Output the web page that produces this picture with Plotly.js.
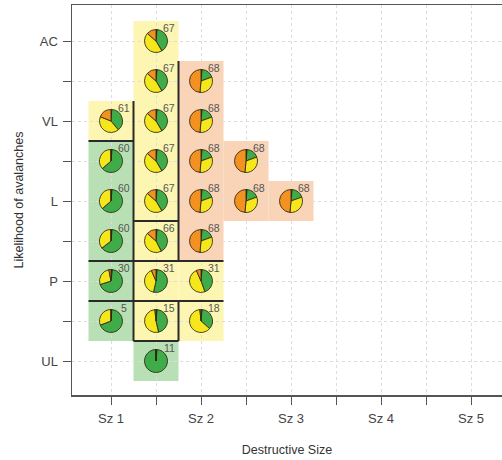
<!DOCTYPE html>
<html>
<head>
<meta charset="utf-8">
<script src="https://cdn.plot.ly/plotly-3.0.1.min.js"></script>
<style>
html,body{margin:0;padding:0;background:#fff;overflow:hidden;}
#chart{width:502px;height:460px;}
</style>
</head>
<body>
<div id="chart"></div>
<script>
// ---- data ----
const sizeLabels = ['Sz 1','Sz 2','Sz 3','Sz 4','Sz 5'];
const likelihoodLabels = ['UL','P','L','VL','AC'];

// pie positions (size, likelihood) on half-step grid
const pieX = [1,1,1,1,1,1, 1.5,1.5,1.5,1.5,1.5,1.5,1.5,1.5,1.5, 2,2,2,2,2,2,2, 2.5,2.5, 3];
const pieY = [4,3.5,3,2.5,2,1.5, 5,4.5,4,3.5,3,2.5,2,1.5,1, 4.5,4,3.5,3,2.5,2,1.5, 3.5,3, 3];
const pieN = [61,60,60,60,30,5, 67,67,67,67,67,66,31,15,11, 68,68,68,68,68,31,18, 68,68, 68];
const pieZone = ['Y','G','G','G','G','G', 'Y','Y','Y','Y','Y','Y','Y','Y','G', 'O','O','O','O','O','Y','Y', 'O','O', 'O'];
// shares of each pie (clockwise from 12 o'clock)
const shareBlack  = [0.01,0.015,0.015,0.015,0.02,0.012, 0.015,0.015,0.015,0.015,0.015,0.015,0.015,0.015,0.015, 0.015,0.015,0.015,0.015,0.015,0.015,0.015, 0.015,0.015, 0.015];
const shareGreen  = [0.38,0.62,0.62,0.63,0.68,0.68, 0.40,0.40,0.40,0.40,0.40,0.41,0.52,0.45,0.985, 0.18,0.18,0.18,0.18,0.18,0.43,0.35, 0.18,0.18, 0.18];
const shareYellow = [0.42,0.365,0.365,0.355,0.27,0.308, 0.45,0.45,0.45,0.45,0.45,0.44,0.40,0.52,0, 0.32,0.32,0.32,0.32,0.32,0.49,0.62, 0.32,0.32, 0.32];
const shareOrange = [0.19,0,0,0,0.03,0, 0.135,0.135,0.135,0.135,0.135,0.135,0.065,0.015,0, 0.485,0.485,0.485,0.485,0.485,0.065,0.015, 0.485,0.485, 0.485];

// boundary segments between zones (data units)
const segX0 = [1.25,1.75,1.75,0.75,1.25,0.75,0.75,1.25];
const segY0 = [4.25,4.75,1.75,3.75,2.75,2.25,1.75,1.25];
const segX1 = [1.25,1.75,1.75,1.25,1.75,2.25,2.25,1.75];
const segY1 = [1.25,2.25,1.25,3.75,2.75,2.25,1.75,1.25];

// ---- styles ----
const W = 502, H = 460;
const M = {l:72, r:0, t:5, b:65};
const xRange = [0.5667, 5.3444];
const yRange = [0.575, 5.45];
const pieR = 11.5;
const sliceColors = ['#222222','#3fab49','#f6e61c','#f39121'];
const zoneColors = {G:'#b9dfb5', Y:'#fdf6b3', O:'#f9d4b7'};
const plotW = W - M.l - M.r, plotH = H - M.t - M.b;

function fx(v){ return (v - xRange[0])/(xRange[1]-xRange[0]); }
function fy(v){ return (v - yRange[0])/(yRange[1]-yRange[0]); }

const traces = [];
traces.push({type:'scatter', x:[xRange[0]], y:[yRange[0]], mode:'markers', marker:{opacity:0}, hoverinfo:'skip', showlegend:false});

const dxf = pieR/plotW, dyf = pieR/plotH;
for (let i=0;i<pieX.length;i++){
  const cx = fx(pieX[i]), cy = fy(pieY[i]);
  traces.push({
    type:'pie',
    values:[shareBlack[i], shareGreen[i], shareYellow[i], shareOrange[i]],
    labels:['black','green','yellow','orange'],
    marker:{colors:sliceColors, line:{color:'rgba(45,40,20,0.85)', width:1}},
    sort:false, direction:'clockwise', rotation:0,
    textinfo:'none', hoverinfo:'skip', showlegend:false,
    domain:{x:[cx-dxf, cx+dxf], y:[cy-dyf, cy+dyf]}
  });
}

const shapes = [];
for (let i=0;i<pieX.length;i++){
  shapes.push({type:'rect', xref:'x', yref:'y', layer:'below',
    x0:pieX[i]-0.25, x1:pieX[i]+0.25, y0:pieY[i]-0.25, y1:pieY[i]+0.25,
    fillcolor:zoneColors[pieZone[i]], line:{width:0}});
}
for (let i=0;i<segX0.length;i++){
  shapes.push({type:'line', xref:'x', yref:'y', layer:'above',
    x0:segX0[i], y0:segY0[i], x1:segX1[i], y1:segY1[i],
    line:{color:'#2a2a2a', width:2}});
}

const annotations = [];
for (let i=0;i<pieX.length;i++){
  annotations.push({xref:'x', yref:'y', x:pieX[i], y:pieY[i], text:String(pieN[i]),
    showarrow:false, xshift:13, yshift:13, font:{size:10.5, color:'#555', family:'Liberation Sans, Arial, sans-serif'}});
}

const xTickVals = [], xTickText = [];
for (let v=1; v<=5.001; v+=0.5){ xTickVals.push(v); xTickText.push(Number.isInteger(v) ? sizeLabels[v-1] : ''); }
const yTickVals = [], yTickText = [];
for (let v=1; v<=5.001; v+=0.5){ yTickVals.push(v); yTickText.push(Number.isInteger(v) ? likelihoodLabels[v-1] : ''); }

const layout = {
  width:W, height:H,
  margin:M,
  paper_bgcolor:'#ffffff', plot_bgcolor:'rgba(0,0,0,0)',
  font:{family:'Liberation Sans, Arial, sans-serif', size:12, color:'#333'},
  showlegend:false,
  xaxis:{range:xRange, tickmode:'array', tickvals:xTickVals, ticktext:xTickText,
    ticks:'outside', ticklen:8, tickcolor:'#555', tickwidth:1, ticklabelstandoff:3,
    showgrid:true, gridcolor:'#dddddd', griddash:'dot', gridwidth:1,
    zeroline:false, showline:true, mirror:true, linecolor:'#555', linewidth:1.5,
    tickfont:{size:13, color:'#444'},
    title:{text:'Destructive Size', font:{size:12.5, color:'#333'}, standoff:20},
    fixedrange:true},
  yaxis:{range:yRange, tickmode:'array', tickvals:yTickVals, ticktext:yTickText,
    ticks:'outside', ticklen:8, tickcolor:'#555', tickwidth:1, ticklabelstandoff:2,
    showgrid:true, gridcolor:'#dddddd', griddash:'dot', gridwidth:1,
    zeroline:false, showline:true, mirror:false, linecolor:'#555', linewidth:1.5,
    tickfont:{size:13, color:'#444'},
    title:{text:'Likelihood of avalanches', font:{size:12.5, color:'#333'}, standoff:13},
    fixedrange:true},
  shapes:shapes,
  annotations:annotations
};

Plotly.newPlot('chart', traces, layout, {displayModeBar:false, staticPlot:true});
</script>
</body>
</html>
